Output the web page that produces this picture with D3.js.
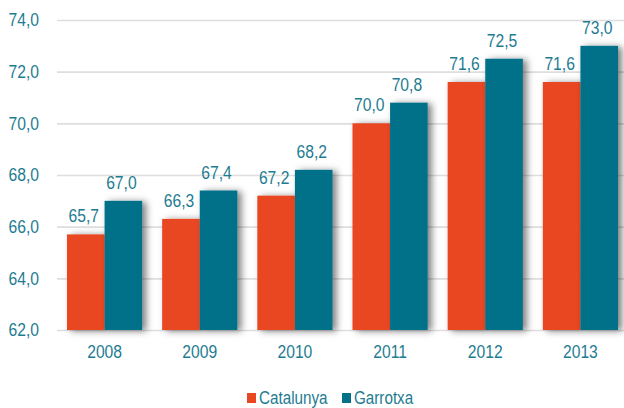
<!DOCTYPE html>
<html>
<head>
<meta charset="utf-8">
<script src="https://cdn.jsdelivr.net/npm/d3@7"></script>
<style>
  body { margin: 0; background: #fff; }
  text { font-family: "Liberation Sans", Arial, sans-serif; }
</style>
</head>
<body>
<div class="chart"></div>
<script>
// data
var years = ["2008", "2009", "2010", "2011", "2012", "2013"];
var catalunya = [65.7, 66.3, 67.2, 70.0, 71.6, 71.6];
var garrotxa = [67.0, 67.4, 68.2, 70.8, 72.5, 73.0];
var seriesNames = ["Catalunya", "Garrotxa"];
var yTicks = [62, 64, 66, 68, 70, 72, 74];

var colors = ["#E84722", "#057189"];
var textColor = "#1E7C91";
var squeeze = 0.87; // the original font is a narrow one

var svgWidth = 624, svgHeight = 408;

var svg = d3.select(".chart")
    .append("svg")
    .attr("width", svgWidth)
    .attr("height", svgHeight);

// blurred shadow behind bars
var filter = svg.append("defs").append("filter")
    .attr("id", "shadow")
    .attr("x", "-30%").attr("y", "-20%")
    .attr("width", "170%").attr("height", "140%");
filter.append("feDropShadow")
    .attr("dx", 4).attr("dy", 1)
    .attr("stdDeviation", 3.5)
    .attr("flood-color", "#000")
    .attr("flood-opacity", 0.5);

var x = d3.scaleBand()
    .domain(years)
    .range([57, 628])
    .paddingInner(0.21)
    .paddingOuter(0.105);

var xSeries = d3.scaleBand()
    .domain(seriesNames)
    .range([0, x.bandwidth()]);

var y = d3.scaleLinear()
    .domain([62, 74])
    .range([330, 20]);

var fmt = function(v) { return d3.format(".1f")(v).replace(".", ","); };

// gridlines + y labels
var yAxis = d3.axisLeft(y)
    .tickValues(yTicks)
    .tickSize(-(svgWidth - 57))
    .tickPadding(18)
    .tickFormat(fmt);

var yG = svg.append("g")
    .attr("transform", "translate(57,0)")
    .call(yAxis);
yG.select(".domain").remove();
yG.selectAll(".tick line")
    .attr("stroke", "#dedede")
    .attr("stroke-width", 1.6);
yG.selectAll(".tick text")
    .attr("fill", textColor)
    .attr("font-size", 18)
    .attr("x", 0)
    .attr("transform", `translate(-18,0) scale(${squeeze},1)`);

// x labels
var xAxis = d3.axisBottom(x).tickSize(0).tickPadding(15);
var xG = svg.append("g")
    .attr("transform", "translate(0,330)")
    .call(xAxis);
xG.select(".domain").remove();
xG.selectAll(".tick text")
    .attr("fill", textColor)
    .attr("font-size", 18)
    .attr("transform", `scale(${squeeze},1)`);

// bars
var rows = years.map(function(yr, i) {
    return { year: yr, values: [
        { name: seriesNames[0], value: catalunya[i] },
        { name: seriesNames[1], value: garrotxa[i] }
    ]};
});

var groups = svg.selectAll(".year")
    .data(rows)
    .enter()
    .append("g")
    .attr("transform", d => `translate(${x(d.year)},0)`);

groups.selectAll("rect")
    .data(d => d.values)
    .enter()
    .append("rect")
    .attr("x", d => xSeries(d.name))
    .attr("y", d => y(d.value))
    .attr("width", xSeries.bandwidth())
    .attr("height", d => y(62) - y(d.value))
    .attr("fill", (d, i) => colors[i])
    .attr("filter", "url(#shadow)");

groups.selectAll(".lbl")
    .data(d => d.values)
    .enter()
    .append("text")
    .attr("class", "lbl")
    .attr("transform", d => `translate(${xSeries(d.name) + xSeries.bandwidth() / 2 - 2},${y(d.value) - 12}) scale(${squeeze},1)`)
    .attr("text-anchor", "middle")
    .attr("font-size", 18)
    .attr("fill", textColor)
    .text(d => fmt(d.value));

// legend
var legendX = [247, 342];
var legend = svg.selectAll(".legend")
    .data(seriesNames)
    .enter()
    .append("g")
    .attr("transform", (d, i) => `translate(${legendX[i]},393)`);

legend.append("rect")
    .attr("width", 9)
    .attr("height", 10)
    .attr("fill", (d, i) => colors[i]);

legend.append("text")
    .attr("transform", `translate(12,11) scale(${squeeze},1)`)
    .attr("font-size", 17.5)
    .attr("fill", textColor)
    .text(d => d);
</script>
</body>
</html>
